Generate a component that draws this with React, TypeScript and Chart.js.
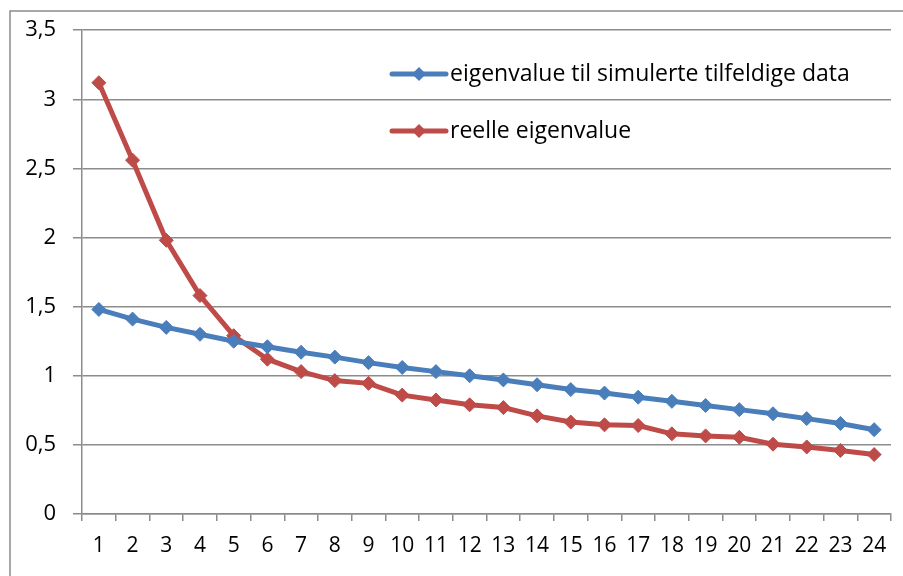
import React, { useEffect, useRef } from "react";
import { Chart, registerables } from "chart.js";

Chart.register(...registerables);

const categories: string[] = Array.from({ length: 24 }, (_, i) => String(i + 1));

const simulatedLabel = "eigenvalue til simulerte tilfeldige data";
const simulatedValues: number[] = [
  1.48, 1.41, 1.35, 1.30, 1.25, 1.21, 1.17, 1.135, 1.095, 1.06, 1.03, 1.0,
  0.97, 0.935, 0.90, 0.875, 0.845, 0.815, 0.785, 0.755, 0.725, 0.69, 0.655, 0.61,
];

const realLabel = "reelle eigenvalue";
const realValues: number[] = [
  3.12, 2.56, 1.98, 1.58, 1.29, 1.12, 1.03, 0.965, 0.945, 0.86, 0.825, 0.79,
  0.77, 0.71, 0.665, 0.645, 0.64, 0.58, 0.565, 0.555, 0.505, 0.485, 0.46, 0.43,
];

const BLUE = "#4a7ebb";
const RED = "#be4b48";
const GRID = "#8c8c8c";
const FONT = "'Open Sans', 'Noto Sans', sans-serif";

export default function App() {
  const canvasRef = useRef<HTMLCanvasElement | null>(null);

  useEffect(() => {
    document.body.style.margin = "0";
    const canvas = canvasRef.current;
    if (!canvas) return;

    const framePlugin = {
      id: "frame",
      beforeDraw(chart: any) {
        const ctx = chart.ctx;
        ctx.save();
        ctx.fillStyle = "#ffffff";
        ctx.fillRect(0, 0, chart.width, chart.height);
        ctx.strokeStyle = GRID;
        ctx.lineWidth = 1.5;
        ctx.beginPath();
        ctx.moveTo(10, chart.height + 5);
        ctx.lineTo(10, 11);
        ctx.lineTo(chart.width + 5, 11);
        ctx.stroke();
        ctx.restore();
      },
    };

    const legendPlugin = {
      id: "insideLegend",
      afterDatasetsDraw(chart: any) {
        const ctx = chart.ctx;
        const items = chart.data.datasets.map((d: any, i: number) => ({
          label: d.label,
          color: d.borderColor,
          y: i === 0 ? 74 : 131,
        }));
        ctx.save();
        for (const it of items) {
          ctx.strokeStyle = it.color;
          ctx.lineWidth = 5;
          ctx.lineCap = "round";
          ctx.beginPath();
          ctx.moveTo(392, it.y);
          ctx.lineTo(446, it.y);
          ctx.stroke();
          ctx.fillStyle = it.color;
          ctx.beginPath();
          const r = 7;
          ctx.moveTo(419, it.y - r);
          ctx.lineTo(419 + r, it.y);
          ctx.lineTo(419, it.y + r);
          ctx.lineTo(419 - r, it.y);
          ctx.closePath();
          ctx.fill();
          ctx.fillStyle = "#000000";
          ctx.font = `23px ${FONT}`;
          ctx.textBaseline = "middle";
          ctx.textAlign = "left";
          ctx.fillText(it.label, 450, it.y);
        }
        ctx.restore();
      },
    };

    const chart = new Chart(canvas, {
      type: "line",
      data: {
        labels: categories,
        datasets: [
          {
            label: simulatedLabel,
            data: simulatedValues,
            borderColor: BLUE,
            backgroundColor: BLUE,
            borderWidth: 5,
            pointStyle: "rectRot",
            pointRadius: 7,
            pointBorderWidth: 1,
            pointBackgroundColor: BLUE,
            pointBorderColor: BLUE,
            tension: 0,
          },
          {
            label: realLabel,
            data: realValues,
            borderColor: RED,
            backgroundColor: RED,
            borderWidth: 5,
            pointStyle: "rectRot",
            pointRadius: 7,
            pointBorderWidth: 1,
            pointBackgroundColor: RED,
            pointBorderColor: RED,
            tension: 0,
          },
        ],
      },
      options: {
        responsive: false,
        animation: false,
        layout: { padding: { top: 29, right: 12, left: 10, bottom: 0 } },
        plugins: {
          legend: { display: false },
          tooltip: { enabled: false },
        },
        scales: {
          x: {
            offset: true,
            grid: {
              display: true,
              offset: true,
              drawOnChartArea: false,
              drawTicks: true,
              tickLength: 7,
              color: GRID,
              lineWidth: 1.5,
            },
            border: { display: true, color: GRID, width: 1.5 },
            ticks: {
              autoSkip: false,
              maxRotation: 0,
              minRotation: 0,
              color: "#000000",
              padding: 12,
              font: { family: FONT, size: 21 },
            },
            afterFit(scale: any) {
              scale.height = 576 - 514;
            },
          },
          y: {
            min: 0,
            max: 3.5,
            ticks: {
              stepSize: 0.5,
              color: "#000000",
              padding: 17,
              font: { family: FONT, size: 22 },
              callback: (v: any) => String(v).replace(".", ","),
            },
            grid: {
              color: GRID,
              lineWidth: 1.5,
              tickLength: 9,
            },
            border: { display: true, color: GRID, width: 1.5 },
            afterFit(scale: any) {
              scale.width = 82 - 10;
            },
          },
        },
      },
      plugins: [framePlugin, legendPlugin],
    });

    return () => chart.destroy();
  }, []);

  return (
    <div style={{ position: "absolute", left: 0, top: 0, width: 903, height: 576 }}>
      <canvas ref={canvasRef} width={903} height={576} />
    </div>
  );
}
